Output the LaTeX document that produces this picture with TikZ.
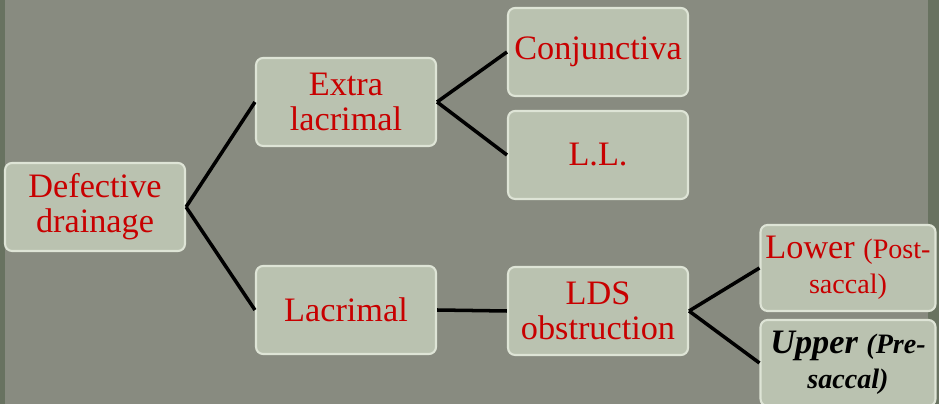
\documentclass[tikz,border=0pt]{standalone}
\usepackage{fontspec}
\setmainfont{Liberation Serif}
\usetikzlibrary{positioning}

\definecolor{slide}{RGB}{136,139,128}
\definecolor{slidedark}{RGB}{104,114,96}
\definecolor{boxfill}{RGB}{186,194,176}
\definecolor{boxedge}{RGB}{222,228,214}
\definecolor{txtred}{RGB}{200,0,0}

\begin{document}
\begin{tikzpicture}[
    x=0.02cm, y=-0.02cm,
    box/.style={draw=boxedge, line width=1.2pt, fill=boxfill, rounded corners=4pt,
                minimum width=3.6cm, minimum height=1.76cm, align=center,
                text=txtred, font=\fontsize{19.5}{20}\selectfont, inner sep=1pt},
    link/.style={draw, line width=2pt, color=black}
]

% background of the slide
\fill[slide] (0,0) rectangle (939,404);
\fill[slidedark] (0,0) rectangle (5,404);
\fill[slidedark] (928,0) rectangle (939,404);
\useasboundingbox (0,0) rectangle (939,404);

% Define node positions
\node[box] (drain) at (95,207) {Defective\\drainage};
\node[box] (extra) at (346,102) {Extra\\lacrimal};
\node[box] (conj) at (598,52) {Conjunctiva};
\node[box] (ll) at (598,155) {L.L.};
\node[box] (lacr) at (346,310) {Lacrimal};
\node[box] (lds) at (598,311) {LDS\\obstruction};
\node[box, minimum width=3.5cm, minimum height=1.72cm] (lower) at (848,268)
    {Lower {\fontsize{16}{20}\selectfont(Post-}\\{\fontsize{16}{20}\selectfont saccal)}};
\node[box, minimum width=3.5cm, minimum height=1.72cm, text=black, font=\fontsize{19.5}{20}\selectfont\bfseries\itshape] (upper) at (848,363)
    {Upper {\fontsize{16}{20}\selectfont(Pre-}\\{\fontsize{16}{20}\selectfont saccal)}};

% Draw the tree lines
\draw[link] (drain.east) -- (extra.west);
\draw[link] (drain.east) -- (lacr.west);
\draw[link] (extra.east) -- (conj.west);
\draw[link] (extra.east) -- (ll.west);
\draw[link] (lacr.east) -- (lds.west);
\draw[link] (lds.east) -- (lower.west);
\draw[link] (lds.east) -- (upper.west);

\end{tikzpicture}
\end{document}
